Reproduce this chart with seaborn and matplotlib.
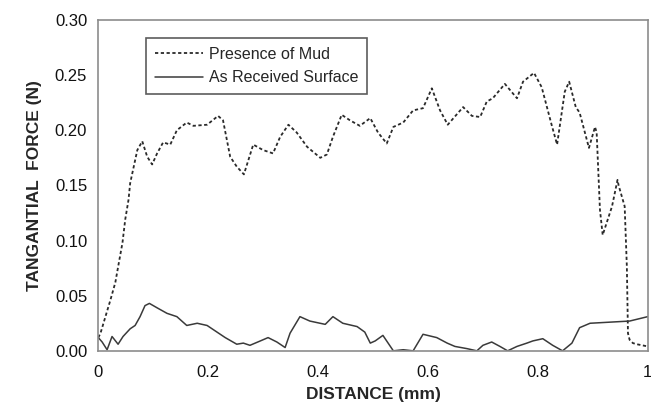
import pandas as pd
import matplotlib.pyplot as plt
import numpy as np
import seaborn as sns

# curva com lama (tracejada)
mud_x = [0.000, 0.004, 0.013, 0.022, 0.031, 0.036, 0.044, 0.049, 0.055, 0.058, 0.071, 0.080,
         0.089, 0.098, 0.107, 0.118, 0.131, 0.143, 0.161, 0.173, 0.198, 0.218, 0.227, 0.240,
         0.252, 0.265, 0.282, 0.300, 0.318, 0.331, 0.346, 0.361, 0.380, 0.404, 0.416, 0.427,
         0.443, 0.458, 0.476, 0.495, 0.509, 0.525, 0.537, 0.555, 0.573, 0.591, 0.607, 0.622,
         0.636, 0.664, 0.680, 0.695, 0.707, 0.718, 0.740, 0.762, 0.773, 0.793, 0.807, 0.825,
         0.835, 0.849, 0.857, 0.869, 0.876, 0.893, 0.904, 0.907, 0.913, 0.918, 0.935, 0.945,
         0.947, 0.958, 0.962, 0.964, 0.967, 0.973, 0.980, 1.000]
mud_y = [0.012, 0.016, 0.031, 0.046, 0.062, 0.076, 0.098, 0.119, 0.137, 0.152, 0.182, 0.190,
         0.176, 0.169, 0.179, 0.189, 0.187, 0.200, 0.207, 0.204, 0.205, 0.213, 0.209, 0.176,
         0.167, 0.160, 0.187, 0.182, 0.179, 0.194, 0.205, 0.198, 0.185, 0.175, 0.178, 0.194,
         0.214, 0.209, 0.204, 0.211, 0.198, 0.188, 0.203, 0.207, 0.218, 0.220, 0.238, 0.218,
         0.205, 0.221, 0.213, 0.212, 0.226, 0.229, 0.242, 0.229, 0.244, 0.252, 0.239, 0.205,
         0.187, 0.235, 0.244, 0.221, 0.216, 0.184, 0.203, 0.198, 0.128, 0.105, 0.131, 0.155,
         0.150, 0.131, 0.076, 0.016, 0.010, 0.007, 0.006, 0.004]

# superficie como recebida (continua)
rec_x = [0.000, 0.007, 0.016, 0.025, 0.036, 0.045, 0.058, 0.067, 0.076, 0.085, 0.093, 0.107,
         0.125, 0.143, 0.161, 0.180, 0.198, 0.216, 0.231, 0.252, 0.264, 0.276, 0.295, 0.309,
         0.325, 0.340, 0.349, 0.367, 0.385, 0.413, 0.427, 0.445, 0.471, 0.485, 0.495, 0.504,
         0.518, 0.537, 0.555, 0.573, 0.591, 0.616, 0.635, 0.649, 0.671, 0.689, 0.700, 0.716,
         0.731, 0.745, 0.762, 0.780, 0.791, 0.809, 0.827, 0.845, 0.862, 0.876, 0.895, 0.931,
         0.967, 1.000]
rec_y = [0.012, 0.008, 0.001, 0.013, 0.006, 0.013, 0.020, 0.023, 0.031, 0.041, 0.043, 0.039,
         0.034, 0.031, 0.023, 0.025, 0.023, 0.017, 0.012, 0.006, 0.007, 0.005, 0.009, 0.012,
         0.008, 0.003, 0.016, 0.031, 0.027, 0.024, 0.031, 0.025, 0.022, 0.017, 0.007, 0.009,
         0.014, 0.000, 0.001, 0.000, 0.015, 0.012, 0.007, 0.004, 0.002, 0.000, 0.005, 0.008,
         0.004, 0.000, 0.004, 0.007, 0.009, 0.011, 0.005, 0.000, 0.007, 0.021, 0.025, 0.026,
         0.027, 0.031]

x_ticks = [0, 0.2, 0.4, 0.6, 0.8, 1]
x_tick_labels = ['0', '0.2', '0.4', '0.6', '0.8', '1']
y_ticks = [0.00, 0.05, 0.10, 0.15, 0.20, 0.25, 0.30]


df_mud = pd.DataFrame({'x': mud_x, 'y': mud_y})
df_rec = pd.DataFrame({'x': rec_x, 'y': rec_y})

sns.set_style('white')
plt.rcParams['font.family'] = ['Liberation Sans', 'DejaVu Sans']

fig, ax = plt.subplots(figsize=(6.51, 4.07), dpi=100)
fig.subplots_adjust(left=0.151, right=0.995, top=0.951, bottom=0.138)

sns.lineplot(data=df_mud, x='x', y='y', ax=ax, color='#2a2a2a', linewidth=1.3,
             linestyle=(0, (1.8, 1.4)), label='Presence of Mud', sort=False)
sns.lineplot(data=df_rec, x='x', y='y', ax=ax, color='#3a3a3a', linewidth=1.1,
             label='As Received Surface', sort=False)

ax.set_xlim(0, 1)
ax.set_ylim(0, 0.30)
ax.set_xticks(x_ticks)
ax.set_xticklabels(x_tick_labels)
ax.set_yticks(y_ticks)
ax.set_yticklabels([f'{v:.2f}' for v in y_ticks])

for s in ax.spines.values():
    s.set_color('#8c8c8c')
    s.set_linewidth(1.2)

ax.tick_params(axis='both', which='major', direction='out', length=5, width=1,
               color='#8c8c8c', labelsize=12, labelcolor='#111111', pad=3)
ax.tick_params(axis='x', pad=5)

ax.set_xlabel('DISTANCE (mm)', fontsize=12.5, fontweight='bold', labelpad=5)
ax.set_ylabel('TANGANTIAL  FORCE (N)', fontsize=12.5, fontweight='bold', labelpad=9)

leg = ax.legend(loc='upper left', bbox_to_anchor=(0.087, 0.946), fontsize=11.5,
                frameon=True, fancybox=False, handlelength=3.0, borderpad=0.55,
                labelspacing=0.55, handletextpad=0.4, borderaxespad=0)
leg.get_frame().set_edgecolor('#333333')
leg.get_frame().set_linewidth(1.2)

plt.savefig('out.png', dpi=100)
